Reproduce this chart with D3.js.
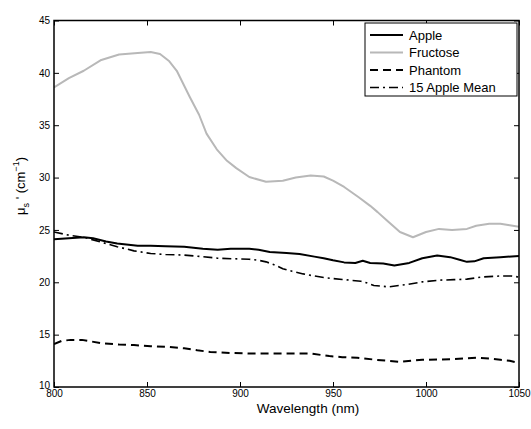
<!DOCTYPE html>
<html>
<head>
<meta charset="utf-8">
<script src="https://cdn.jsdelivr.net/npm/d3@7"></script>
<style>
  html, body { margin: 0; padding: 0; background: #fff; }
  svg { display: block; font-family: "Liberation Sans", Arial, Helvetica, sans-serif; }
</style>
</head>
<body>
<svg id="chart" width="531" height="429"></svg>
<script>
// ---- data ----
const xTicks = [800, 850, 900, 950, 1000, 1050];
const yTicks = [10, 15, 20, 25, 30, 35, 40, 45];

const appleWl = [800,808,816,821,828,834,845,852,860,870,880,888,895,905,910,916,925,932,940,945,950,956,962,966,970,977,983,991,998,1006,1013,1018,1022,1026,1031,1040,1050];
const appleVal = [24.1,24.2,24.3,24.2,23.9,23.7,23.5,23.5,23.45,23.4,23.2,23.1,23.2,23.2,23.1,22.9,22.8,22.7,22.45,22.3,22.1,21.9,21.85,22.05,21.85,21.8,21.6,21.85,22.3,22.55,22.4,22.15,21.95,22.0,22.3,22.4,22.5];

const fructoseWl = [800,808,816,825,835,845,852,857,862,866,873,878,882,887.5,893,898,905,914,923,930,938,945,950,956,964,970,974,979,986,993,1000,1007,1014,1022,1027,1034,1040,1045,1050];
const fructoseVal = [38.6,39.5,40.2,41.2,41.75,41.9,42.0,41.8,41.1,40.2,37.7,36.0,34.2,32.7,31.6,30.9,30.05,29.6,29.7,30.0,30.2,30.1,29.7,29.1,28.1,27.3,26.7,25.9,24.8,24.3,24.8,25.1,25.0,25.1,25.4,25.6,25.6,25.45,25.3];

const phantomWl = [800,804,809,815,820,825,835,843,852,860,870,877,884,895,905,915,925,938,948,955,963,973,986,998,1013,1027,1035,1040,1045,1050];
const phantomVal = [14.1,14.4,14.5,14.5,14.35,14.2,14.05,14.0,13.9,13.85,13.7,13.5,13.35,13.25,13.2,13.2,13.2,13.2,12.95,12.85,12.8,12.6,12.4,12.6,12.65,12.8,12.7,12.6,12.5,12.3];

const meanWl = [800,808,816,825,834,843,852,860,870,880,888,896,905,910,914,918,923,928,934,940,945,955,965,968,972,980,990,998,1007,1015,1022,1030,1040,1046,1050];
const meanVal = [24.8,24.5,24.3,23.85,23.4,23.0,22.75,22.65,22.6,22.45,22.3,22.25,22.2,22.1,21.95,21.7,21.3,21.05,20.8,20.6,20.45,20.27,20.1,19.95,19.7,19.56,19.8,20.04,20.2,20.25,20.3,20.5,20.6,20.6,20.5];

const seriesNames = ["Apple", "Fructose", "Phantom", "15 Apple Mean"];

// ---- styles ----
const styles = {
  "Apple":         { color: "#000", dash: null,       width: 2 },
  "Fructose":      { color: "#b8b8b8", dash: null,    width: 2 },
  "Phantom":       { color: "#000", dash: "8,5",      width: 2 },
  "15 Apple Mean": { color: "#000", dash: "9,4,2,4",  width: 1.6 }
};

const series = [
  { name: "Apple", data: appleWl.map((w, i) => [w, appleVal[i]]) },
  { name: "Fructose", data: fructoseWl.map((w, i) => [w, fructoseVal[i]]) },
  { name: "Phantom", data: phantomWl.map((w, i) => [w, phantomVal[i]]) },
  { name: "15 Apple Mean", data: meanWl.map((w, i) => [w, meanVal[i]]) }
];

const L = 54, R = 519, T = 20.5, B = 387;
const svg = d3.select("#chart");

const x = d3.scaleLinear().domain([800, 1050]).range([L, R]);
const y = d3.scaleLinear().domain([10, 45]).range([B, T]);

// data lines (clipped)
svg.append("clipPath").attr("id", "clip")
  .append("rect").attr("x", L).attr("y", T).attr("width", R - L).attr("height", B - T);

const line = d3.line().x(d => x(d[0])).y(d => y(d[1]));
const gLines = svg.append("g").attr("clip-path", "url(#clip)");
series.forEach(s => {
  const st = styles[s.name];
  gLines.append("path")
    .datum(s.data)
    .attr("d", line)
    .attr("fill", "none")
    .attr("stroke", st.color)
    .attr("stroke-width", st.width)
    .attr("stroke-dasharray", st.dash)
    .attr("stroke-linejoin", "round");
});

// axes
function styleAxis(g) {
  g.select(".domain").remove();
  g.selectAll(".tick line").attr("stroke", "#000").attr("stroke-width", 1);
  g.selectAll(".tick text").attr("fill", "#000").style("font-size", "10px")
    .style("font-family", "'Liberation Sans', Arial, sans-serif");
}

svg.append("g").attr("transform", `translate(0,${B})`)
  .call(d3.axisBottom(x).tickValues(xTicks).tickSize(-5).tickSizeOuter(0).tickPadding(3).tickFormat(d3.format("d")))
  .call(styleAxis);
svg.append("g").attr("transform", `translate(0,${T})`)
  .call(d3.axisTop(x).tickValues(xTicks).tickSize(-5).tickSizeOuter(0).tickFormat(""))
  .call(styleAxis);
const gy = svg.append("g").attr("transform", `translate(${L},0)`)
  .call(d3.axisLeft(y).tickValues(yTicks).tickSize(-5).tickSizeOuter(0).tickPadding(4).tickFormat(d3.format("d")))
  .call(styleAxis);
gy.selectAll(".tick text").filter(d => d === 10).attr("dy", "0.1em");
svg.append("g").attr("transform", `translate(${R},0)`)
  .call(d3.axisRight(y).tickValues(yTicks).tickSize(-5).tickSizeOuter(0).tickFormat(""))
  .call(styleAxis);

// frame
svg.append("rect").attr("x", L).attr("y", T).attr("width", R - L).attr("height", B - T)
  .attr("fill", "none").attr("stroke", "#000").attr("stroke-width", 1.5);

// axis titles
svg.append("text").attr("x", 308).attr("y", 412.5).attr("text-anchor", "middle")
  .style("font-size", "13.5px").attr("fill", "#000").text("Wavelength (nm)");

const yl = svg.append("text")
  .attr("transform", "translate(25,186) rotate(-90)")
  .attr("text-anchor", "middle").style("font-size", "13px").attr("fill", "#000");
yl.append("tspan").text("μ");
yl.append("tspan").attr("dy", 4).style("font-size", "9px").text("s");
yl.append("tspan").attr("dy", -4).text(" ' (cm");
yl.append("tspan").attr("dy", -6).style("font-size", "9px").text("−1");
yl.append("tspan").attr("dy", 6).text(")");

// legend
const lg = svg.append("g");
lg.append("rect").attr("x", 365).attr("y", 23).attr("width", 152).attr("height", 73)
  .attr("fill", "#fff").attr("stroke", "#000").attr("stroke-width", 1);
seriesNames.forEach((n, i) => {
  const st = styles[n];
  const cy = 35 + i * 17.5;
  lg.append("line").attr("x1", 370).attr("x2", 403).attr("y1", cy).attr("y2", cy)
    .attr("stroke", st.color).attr("stroke-width", st.width).attr("stroke-dasharray", st.dash);
  lg.append("text").attr("x", 409).attr("y", cy + 4.5).style("font-size", "13px")
    .attr("fill", "#000").text(n);
});
</script>
</body>
</html>
